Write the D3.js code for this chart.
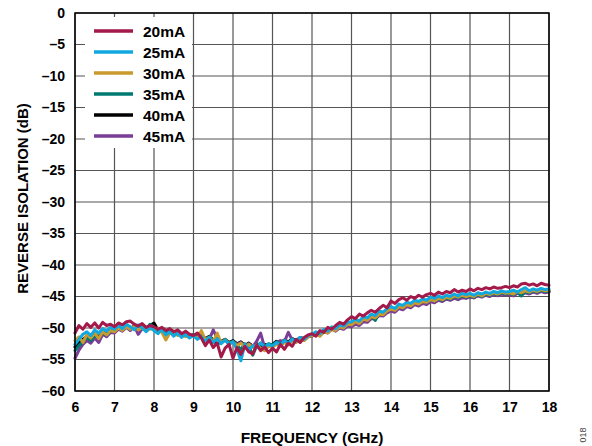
<!DOCTYPE html>
<html><head><meta charset="utf-8">
<script src="https://cdn.jsdelivr.net/npm/d3@7"></script>
<style>
html,body{margin:0;padding:0;background:#fff;}
svg{display:block;font-family:"Liberation Sans",Arial,sans-serif;}
</style></head>
<body>
<svg id="chart" width="592" height="446"></svg>
<script>
const seriesNames = ["20mA","25mA","30mA","35mA","40mA","45mA"];
const seriesColors = ["#A3194A","#10A8DF","#C99A2E","#007A70","#000000","#7A3E96"];
const xTicks = [6,7,8,9,10,11,12,13,14,15,16,17,18];
const yTicks = [0,-5,-10,-15,-20,-25,-30,-35,-40,-45,-50,-55,-60];
const freqStart = 6, freqStep = 0.1;

const s20 = [
-50.8,-49.6,-50.2,-49.3,-49.9,-49.2,-50.0,-49.1,-49.6,-49.4,
-49.8,-49.2,-49.5,-49.0,-48.9,-49.4,-49.7,-49.3,-49.9,-49.6,
-49.8,-50.2,-49.9,-50.4,-50.1,-50.6,-50.3,-50.9,-50.5,-51.0,
-51.2,-50.8,-51.6,-52.8,-51.9,-53.1,-52.4,-54.6,-53.2,-52.6,
-54.8,-53.1,-54.2,-52.9,-53.8,-54.1,-52.7,-53.6,-53.0,-53.9,
-53.2,-53.8,-52.6,-53.4,-52.4,-52.9,-51.8,-52.3,-51.5,-51.1,
-50.9,-51.3,-50.4,-50.7,-49.9,-50.2,-49.6,-49.1,-49.4,-48.7,
-48.2,-48.5,-47.8,-48.1,-47.6,-47.2,-47.5,-46.9,-46.4,-46.8,
-45.7,-46.1,-45.5,-45.2,-45.6,-45.0,-45.3,-44.8,-45.1,-44.7,
-44.5,-44.8,-44.3,-44.6,-44.2,-44.4,-43.9,-44.3,-44.0,-44.2,
-43.8,-44.1,-43.7,-43.9,-43.6,-43.8,-43.5,-43.7,-43.6,-43.4,
-43.6,-43.3,-43.5,-43.0,-42.9,-43.2,-43.0,-43.3,-42.9,-43.1,
-43.2];
const s25 = [
-52.6,-51.8,-51.0,-50.6,-51.2,-50.3,-50.8,-50.1,-50.5,-49.9,
-50.2,-49.6,-50.1,-49.4,-49.8,-50.3,-49.5,-50.0,-50.6,-49.9,
-50.4,-50.9,-50.2,-51.1,-50.6,-51.3,-50.8,-51.5,-51.0,-51.6,
-51.2,-51.8,-51.4,-52.1,-51.5,-52.3,-51.7,-52.5,-51.9,-52.6,
-52.2,-53.4,-55.2,-52.6,-53.5,-52.8,-53.1,-52.4,-53.0,-52.6,
-52.9,-52.3,-52.7,-52.0,-52.4,-51.8,-52.1,-51.5,-51.8,-51.2,
-51.0,-50.6,-50.9,-50.2,-50.5,-49.8,-50.1,-49.5,-49.7,-49.1,
-49.0,-48.6,-48.9,-48.2,-48.4,-47.8,-48.0,-47.3,-47.5,-46.9,
-46.6,-46.9,-46.2,-46.4,-45.9,-46.1,-45.6,-45.8,-45.4,-45.6,
-45.1,-45.3,-44.9,-45.2,-44.8,-45.0,-44.6,-44.9,-44.5,-44.7,
-44.5,-44.8,-44.4,-44.6,-44.3,-44.5,-44.2,-44.4,-44.1,-44.3,
-44.2,-44.0,-44.3,-43.9,-43.6,-44.1,-43.8,-44.0,-43.7,-43.9,
-43.8];
const s30 = [
-52.0,-51.4,-52.3,-51.0,-51.6,-50.8,-51.7,-50.6,-51.1,-50.4,
-50.6,-50.0,-50.4,-49.8,-50.2,-49.7,-50.3,-49.9,-50.5,-50.1,
-50.3,-50.0,-50.7,-51.9,-50.8,-50.5,-51.2,-50.9,-51.4,-51.0,
-51.3,-51.6,-50.4,-51.9,-51.5,-52.2,-50.8,-52.4,-51.9,-52.5,
-52.3,-52.8,-52.4,-53.0,-52.6,-53.1,-52.7,-53.2,-53.6,-52.9,
-53.0,-52.6,-52.9,-52.3,-52.7,-52.0,-52.3,-51.7,-52.0,-51.4,
-51.2,-50.9,-51.3,-50.6,-50.8,-50.2,-50.4,-49.8,-50.0,-49.4,
-49.5,-49.0,-49.3,-48.6,-48.8,-48.2,-48.4,-47.8,-47.9,-47.3,
-47.0,-47.2,-46.6,-46.8,-46.3,-46.5,-46.0,-46.2,-45.8,-45.9,
-45.5,-45.7,-45.3,-45.5,-45.1,-45.3,-44.9,-45.1,-44.8,-45.0,
-44.8,-45.0,-44.6,-44.9,-44.5,-44.7,-44.4,-44.6,-44.3,-44.5,
-44.4,-44.6,-44.2,-44.4,-44.1,-44.3,-44.0,-44.2,-43.9,-44.1,
-44.0];
const s35 = [
-53.6,-52.8,-52.2,-51.5,-52.0,-51.2,-51.6,-50.7,-51.1,-50.5,
-50.4,-49.9,-50.3,-49.5,-50.0,-49.7,-50.1,-49.6,-50.2,-49.4,
-49.9,-50.5,-50.1,-50.7,-50.3,-50.9,-50.6,-51.2,-50.8,-51.3,
-51.0,-51.5,-51.2,-51.8,-51.4,-52.0,-51.6,-52.3,-51.8,-52.4,
-52.1,-52.7,-53.4,-52.5,-52.9,-54.3,-52.8,-52.4,-53.0,-52.5,
-52.7,-52.2,-52.6,-52.0,-52.4,-51.8,-52.1,-51.6,-51.9,-51.3,
-51.1,-50.7,-51.0,-50.4,-50.6,-50.0,-50.2,-49.6,-49.8,-49.2,
-49.3,-48.7,-48.9,-48.3,-48.6,-47.9,-48.8,-47.6,-47.7,-47.1,
-46.9,-47.1,-46.5,-46.7,-46.2,-46.4,-45.9,-46.1,-45.7,-45.9,
-45.5,-45.7,-45.3,-45.6,-45.2,-45.4,-45.0,-45.2,-44.9,-45.1,
-44.9,-45.1,-44.7,-45.0,-44.6,-44.8,-44.5,-44.7,-44.4,-44.6,
-44.5,-44.7,-44.3,-44.9,-44.2,-44.4,-44.1,-44.3,-44.0,-44.2,
-44.1];
const s40 = [
-53.0,-52.4,-51.8,-51.3,-51.7,-51.0,-51.4,-50.6,-50.9,-50.3,
-50.5,-50.0,-50.3,-49.7,-50.1,-49.8,-50.2,-49.9,-50.0,-49.6,
-49.2,-50.3,-50.0,-50.6,-50.2,-50.8,-50.5,-51.0,-50.7,-51.2,
-51.1,-51.4,-51.0,-51.7,-51.3,-51.9,-52.6,-52.1,-51.8,-52.3,
-52.0,-52.5,-52.2,-52.8,-52.4,-52.9,-52.5,-53.0,-52.6,-52.8,
-52.6,-52.1,-52.4,-51.9,-52.2,-51.7,-52.0,-51.5,-51.7,-51.2,
-51.2,-50.8,-51.1,-50.5,-50.7,-50.1,-50.3,-49.7,-49.9,-49.3,
-49.4,-48.9,-49.1,-48.5,-48.7,-48.1,-48.3,-47.7,-47.9,-47.3,
-47.1,-47.3,-46.7,-46.9,-46.4,-46.6,-46.1,-46.3,-45.9,-46.1,
-45.7,-45.9,-45.5,-45.7,-45.3,-45.5,-45.2,-45.4,-45.1,-45.2,
-45.0,-45.2,-44.8,-45.0,-44.7,-44.9,-44.6,-44.8,-44.5,-44.7,
-44.6,-44.8,-44.4,-44.6,-44.3,-44.5,-44.2,-44.4,-44.1,-44.3,
-44.2];
const s45 = [
-54.8,-53.5,-52.6,-52.0,-52.4,-51.6,-52.3,-51.0,-51.4,-50.7,
-50.8,-50.2,-50.5,-49.9,-50.4,-49.6,-51.0,-50.1,-50.3,-49.8,
-50.1,-50.6,-50.3,-50.8,-50.4,-51.0,-50.7,-51.2,-50.8,-51.3,
-51.1,-51.5,-51.2,-51.6,-51.8,-50.3,-51.7,-52.3,-51.9,-52.4,
-52.2,-52.6,-52.3,-52.9,-52.5,-53.0,-52.1,-50.8,-53.1,-52.7,
-52.8,-52.3,-52.0,-52.2,-50.7,-51.9,-52.2,-51.7,-51.9,-51.4,
-51.3,-50.9,-51.2,-50.6,-50.8,-50.2,-50.5,-50.0,-50.2,-49.7,
-49.8,-49.4,-49.6,-49.0,-49.1,-48.5,-48.6,-48.0,-48.1,-47.6,
-47.3,-47.5,-46.9,-47.1,-46.6,-46.8,-46.3,-46.5,-46.1,-46.3,
-45.8,-46.0,-45.6,-45.8,-45.4,-45.6,-45.3,-45.5,-45.2,-45.3,
-45.1,-45.2,-44.9,-45.1,-44.8,-45.0,-44.7,-44.9,-44.6,-44.8,
-44.7,-44.9,-44.5,-44.7,-44.4,-44.6,-44.3,-44.5,-44.2,-44.4,
-44.3];

const seriesValues = [s20,s25,s30,s35,s40,s45];
const drawOrder = [4,5,3,2,1,0];

const svg = d3.select("#chart");
const margin = {left:75, top:13, right:43, bottom:55};
const W = 592, H = 446;
const x = d3.scaleLinear().domain([6,18]).range([margin.left, W - margin.right]);
const y = d3.scaleLinear().domain([-60,0]).range([H - margin.bottom, margin.top]);

// grid
const grid = svg.append("g");
grid.selectAll("line.v").data(xTicks).join("line")
  .attr("x1", d=>x(d)).attr("x2", d=>x(d)).attr("y1", y(0)).attr("y2", y(-60))
  .attr("stroke","#555").attr("stroke-width",1.2);
grid.selectAll("line.h").data(yTicks).join("line")
  .attr("y1", d=>y(d)).attr("y2", d=>y(d)).attr("x1", x(6)).attr("x2", x(18))
  .attr("stroke","#555").attr("stroke-width",1.2);

// axes (labels only)
const fmt = d => d < 0 ? "\u2013" + Math.abs(d) : String(d);
const xAxis = d3.axisBottom(x).tickValues(xTicks).tickSize(0).tickPadding(11).tickFormat(d=>d);
const yAxis = d3.axisLeft(y).tickValues(yTicks).tickSize(0).tickPadding(10).tickFormat(fmt);
const gx = svg.append("g").attr("transform",`translate(0,${y(-60)})`).call(xAxis);
const gy = svg.append("g").attr("transform",`translate(${x(6)},0)`).call(yAxis);
[gx,gy].forEach(g=>{
  g.select(".domain").remove();
  g.selectAll("text").attr("font-size",14).attr("font-weight","bold").attr("fill","#000")
   .attr("font-family","'Liberation Sans',Arial,sans-serif");
});

// lines
const line = d3.line().x((d,i)=>x(freqStart + i*freqStep)).y(d=>y(d));
const lines = svg.append("g");
drawOrder.forEach(k=>{
  lines.append("path").datum(seriesValues[k]).attr("d", line)
    .attr("fill","none").attr("stroke", seriesColors[k]).attr("stroke-width",3)
    .attr("stroke-linejoin","round").attr("stroke-linecap","round");
});

// frame
svg.append("rect").attr("x",x(6)).attr("y",y(0)).attr("width",x(18)-x(6)).attr("height",y(-60)-y(0))
  .attr("fill","none").attr("stroke","#000").attr("stroke-width",1.5);

// legend
const lg = svg.append("g");
lg.append("rect").attr("x",85).attr("y",17).attr("width",107).attr("height",131).attr("fill","#fff");
seriesNames.forEach((n,i)=>{
  const yy = 31 + i*21;
  lg.append("line").attr("x1",94).attr("x2",133).attr("y1",yy).attr("y2",yy)
    .attr("stroke",seriesColors[i]).attr("stroke-width",3.5);
  lg.append("text").attr("x",143).attr("y",yy+5.5).text(n)
    .attr("font-size",15.5).attr("font-weight","bold").attr("fill","#000");
});

// titles
svg.append("text").attr("x",(x(6)+x(18))/2).attr("y",443).attr("text-anchor","middle")
  .attr("font-size",15.5).attr("font-weight","bold").text("FREQUENCY (GHz)");
svg.append("text").attr("transform",`translate(27.5,198.5) rotate(-90)`)
  .attr("text-anchor","middle").attr("font-size",15).attr("font-weight","bold")
  .text("REVERSE ISOLATION (dB)");
svg.append("text").attr("transform","translate(586,435) rotate(-90)")
  .attr("text-anchor","middle").attr("font-size",9).attr("fill","#444").text("018");
</script>
</body></html>
